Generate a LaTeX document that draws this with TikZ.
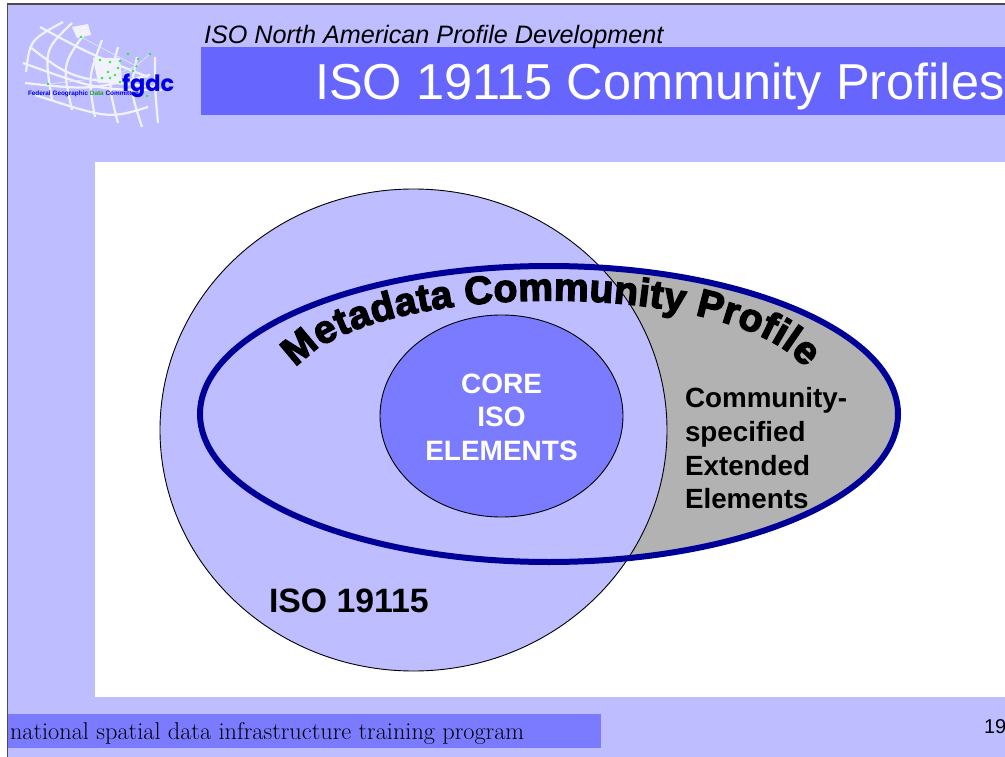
\documentclass[tikz,border=0pt]{standalone}
\usepackage{fontspec}
\usepackage{xcolor}
\setmainfont{Liberation Sans}
\newfontfamily\heavyfont[FakeBold=3.6]{Liberation Sans Bold}
\newfontfamily\footfont{Latin Modern Roman}
\newfontfamily\logofont{Poppins}
\usetikzlibrary{
  decorations.text,
  positioning,
  shapes.geometric
}
\definecolor{slidebg}{HTML}{BDBDFF}
\definecolor{titleband}{HTML}{6666FF}
\definecolor{coreblue}{HTML}{7B7BFF}
\definecolor{ringblue}{HTML}{000099}
\definecolor{extgrey}{HTML}{B2B2B2}
\definecolor{logoblue}{HTML}{0000E6}
\definecolor{logogreen}{HTML}{22EE22}

\begin{document}
\begin{tikzpicture}[
  x=1pt, y=-1pt,
  every node/.style={inner sep=0pt, outer sep=0pt},
  band/.style={anchor=north west, minimum height=#1, fill=titleband},
  venn/.style={draw=black, line width=0.9pt},
  label/.style={font=\fontsize{27.8}{33.7}\selectfont\bfseries, align=left},
  gridline/.style={draw=white!80!slidebg, line width=2.2pt},
  logolink/.style={draw=white!60!slidebg, line width=0.7pt},
  logodot/.style={fill=logogreen, circle, minimum size=2.6pt}
]
\useasboundingbox (0,0) rectangle (1005,757);

% slide background
\fill[black!70] (6.5,3.5) rectangle (1005,757);
\fill[slidebg] (8,5) rectangle (1005,757);
\fill[white] (95,162) rectangle (1005,697);

% logo
\foreach \ax/\ay/\bx/\by/\cx/\cy in {
  40/27/90/54/148/77,
  30/47/72/79/155/87,
  23/63/98/90/162/90,
  25/83/90/90/150/75,
  35/95/109/119/148/107
}{
  \draw[gridline] (\ax,\ay) .. controls (\bx,\by) .. (\cx,\cy);
}
\foreach \ax/\ay/\bx/\by/\cx/\cy in {
  63/22/30/40/26/72,
  72/23/44/50/52/100,
  85/33/62/65/72/110,
  102/40/88/78/95/117,
  118/47/108/85/118/123,
  137/57/130/90/142/127,
  155/57/155/90/158/123
}{
  \draw[gridline] (\ax,\ay) .. controls (\bx,\by) .. (\cx,\cy);
}
\fill[white!80!slidebg] (72,27) -- (88,24) -- (91,35) -- (77,38) -- cycle;
\fill[white!80!slidebg] (93,58) -- (120,58) -- (122,82) -- (98,83) -- cycle;
\foreach \dotname/\dx/\dy in {
  da/81/37, db/100/60, dc/110/62, dd/120/61, de/128/54,
  df/138/59, dg/150/54, dh/136/66, di/133/71, dj/118/68,
  dk/115/75, dl/108/72, dm/102/78, dn/110/78, dq/120/82,
  dp/48/84, dr/147/96
}{
  \node[logodot] (\dotname) at (\dx,\dy) {};
}
\draw[logolink] (da) -- (dh) -- (dg);
\draw[logolink] (dl) -- (dj) -- (dd);
\draw[logolink] (dp) -- (dm) -- (dk) -- (dh);
\draw[logolink] (dn) -- (di) -- (df);
\node[font=\fontsize{6.4}{7}\selectfont\bfseries, text=logoblue, anchor=base west] (committee) at (28,96) {Federal Geographic \textcolor{logogreen!70!black}{Data} Committee};
\node[font=\logofont\fontsize{22.5}{25}\selectfont\bfseries, text=logoblue, anchor=base west] (fgdc) at (122,92) {fgdc};

% title block
\node[band=68pt, minimum width=804pt] (titlebar) at (201,47) {};
\node[font=\fontsize{25.2}{30}\selectfont\itshape, anchor=base west] (subtitle) at (204,44) {ISO North American Profile Development};
\node[font=\fontsize{50.5}{60}\selectfont, text=white, anchor=base west] (title) at (315,100) {ISO 19115 Community Profiles};

% venn
\node[ellipse, fill=extgrey, minimum width=698pt, minimum height=296pt] (profilefill) at (549,414) {};
\node[ellipse, venn, fill=slidebg, minimum width=507pt, minimum height=482pt] (iso) at (413.5,430) {};
\node[ellipse, venn, fill=coreblue, minimum width=243pt, minimum height=202pt] (core) at (501.5,416) {};
\node[ellipse, draw=ringblue, line width=6pt, minimum width=698pt, minimum height=296pt] (profile) at (549,414) {};

\path[decorate, decoration={
    text along path,
    text align=fit to path,
    text={|\heavyfont\fontsize{39}{39}\selectfont|Metadata Community Profile}
  }]
  (296,368) .. controls (369,278) and (733,278) .. (805,368);

\node[label, text=white, align=center, font=\fontsize{28}{33.5}\selectfont\bfseries] (corelabel) at (501.5,417) {CORE\\ISO\\ELEMENTS};
\node[label, anchor=north west] (extlabel) at (685,387.5) {Community-\\specified\\Extended\\Elements};
\node[label, font=\fontsize{33.8}{36}\selectfont\bfseries, anchor=base west] (isolabel) at (269,612) {ISO 19115};

% footer
\node[band=34pt, minimum width=593pt, fill=coreblue] (footbar) at (8,714) {};
\node[font=\footfont\fontsize{24.3}{28}\selectfont, anchor=base west] (foottext) at (10,739) {national spatial data infrastructure training program};
\node[font=\fontsize{20}{22}\selectfont, anchor=base west] (pagenum) at (984,733) {19};
\end{tikzpicture}
\end{document}
